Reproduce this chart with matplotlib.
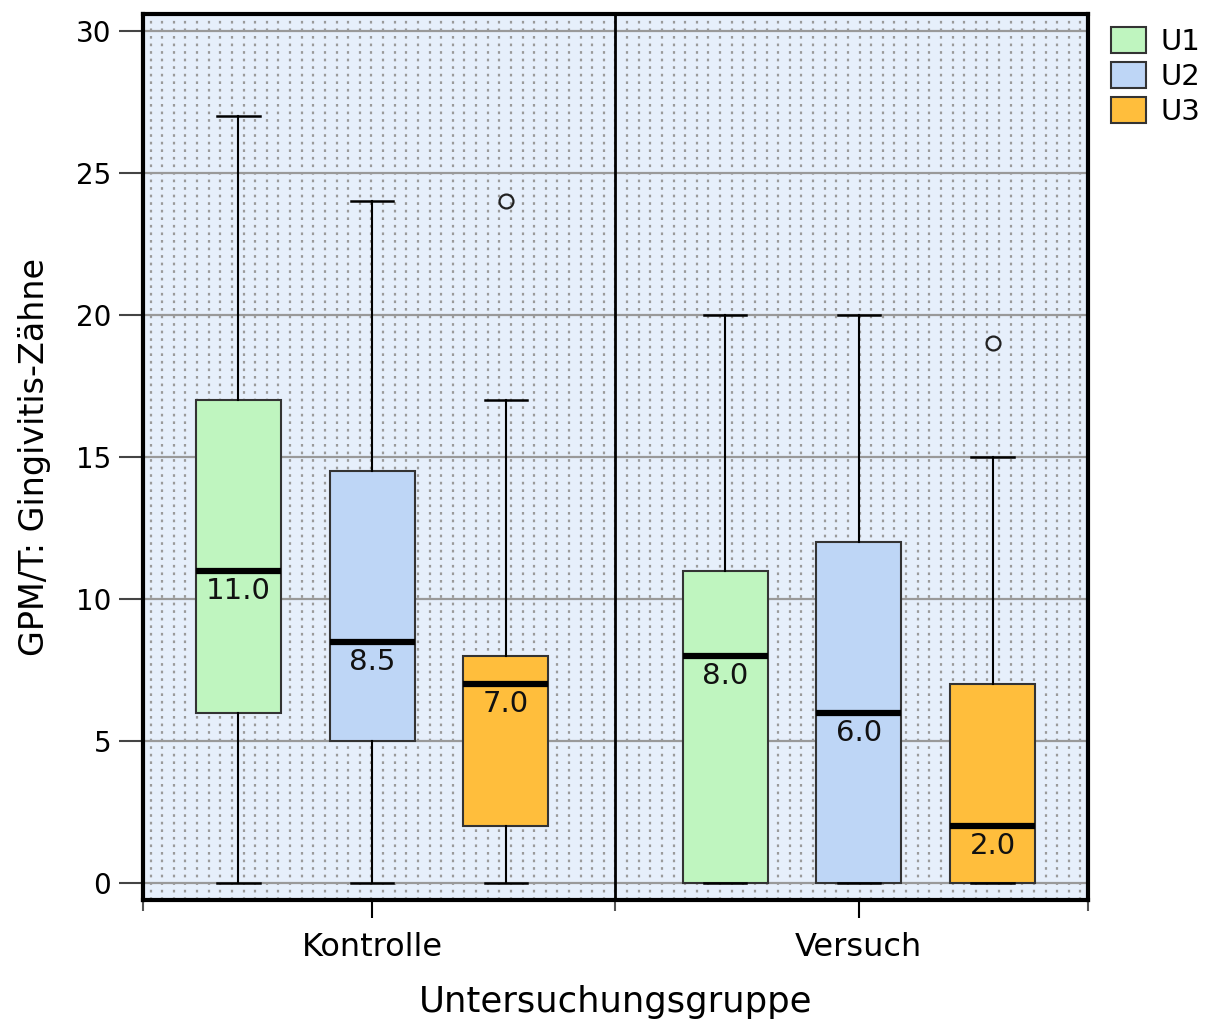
import numpy as np
import matplotlib
matplotlib.use("Agg")
import matplotlib.pyplot as plt
from matplotlib.patches import Patch

# Box plot summary per group and examination (U1, U2, U3)
groups = ["Kontrolle", "Versuch"]
visits = ["U1", "U2", "U3"]
colors = ["#bff5bf", "#bed6f6", "#ffbe3c"]

whislo = [[0, 0, 0], [0, 0, 0]]
q1 = [[6, 5, 2], [0, 0, 0]]
med = [[11.0, 8.5, 7.0], [8.0, 6.0, 2.0]]
q3 = [[17, 14.5, 8], [11, 12, 7]]
whishi = [[27, 24, 17], [20, 20, 15]]
fliers = [[[], [], [24]], [[], [], [19]]]

fig = plt.figure(figsize=(12.2, 10.3), dpi=100)
ax = fig.add_axes([0.1172, 0.1262, 0.7746, 0.8602])
ax.set_facecolor("#e6effb")

# dotted background texture
for xf in np.linspace(0.008, 0.992, 81):
    ax.plot([xf, xf], [0, 1], transform=ax.transAxes, color="#9a9a9a",
            lw=1.6, ls=(0, (1.2, 2.2)), zorder=0.5)

ax.set_ylim(-0.6, 30.6)
ax.set_xlim(0.5, 2.5)
ax.set_yticks([0, 5, 10, 15, 20, 25, 30])
ax.yaxis.grid(True, color="#999999", lw=1.6, zorder=0.8)
ax.set_axisbelow(True)

centers = [0.985, 2.015]
offset = 0.283
width = 0.18

for g in range(2):
    for v in range(3):
        pos = centers[g] + (v - 1) * offset
        stats = [dict(whislo=whislo[g][v], q1=q1[g][v], med=med[g][v],
                      q3=q3[g][v], whishi=whishi[g][v], fliers=fliers[g][v])]
        ax.bxp(stats, positions=[pos], widths=width, patch_artist=True,
               boxprops=dict(facecolor=colors[v], edgecolor="#333333", lw=1.5),
               medianprops=dict(color="black", lw=4.5),
               whiskerprops=dict(color="black", lw=1.5),
               capprops=dict(color="black", lw=1.8),
               capwidths=width * 0.5,
               flierprops=dict(marker="o", markersize=10, markerfacecolor="none",
                               markeredgecolor="#222222", markeredgewidth=1.6),
               manage_ticks=False, zorder=3)
        ax.text(pos, med[g][v] - 0.22, f"{med[g][v]:.1f}", ha="center", va="top",
                fontsize=21, color="#111111", zorder=4)

# divider between groups
ax.axvline(1.5, color="black", lw=2, zorder=4)

for s in ax.spines.values():
    s.set_linewidth(3)
    s.set_zorder(5)

ax.set_xticks(centers)
ax.set_xticklabels(groups, fontsize=23)
ax.set_xticks([0.5, 1.5, 2.5], minor=True)
ax.tick_params(axis="x", which="major", length=13, width=1.5, pad=10)
ax.tick_params(axis="x", which="minor", length=8, width=1.5, color="#555555")
ax.tick_params(axis="y", length=17, width=1.5, labelsize=20, pad=6, color="#444444")
ax.set_ylabel("GPM/T: Gingivitis-Zähne", fontsize=24, labelpad=18)
ax.set_xlabel("Untersuchungsgruppe", fontsize=25.5, labelpad=16)

handles = [Patch(facecolor=c, edgecolor="#333333", lw=1.5, label=l)
           for c, l in zip(colors, visits)]
fig.legend(handles=handles, loc="upper left", bbox_to_anchor=(0.901, 0.985),
           frameon=False, fontsize=21, handlelength=1.2, handleheight=1.0,
           handletextpad=0.5, labelspacing=0.2, borderaxespad=0)

fig.savefig("out.png", dpi=100)
